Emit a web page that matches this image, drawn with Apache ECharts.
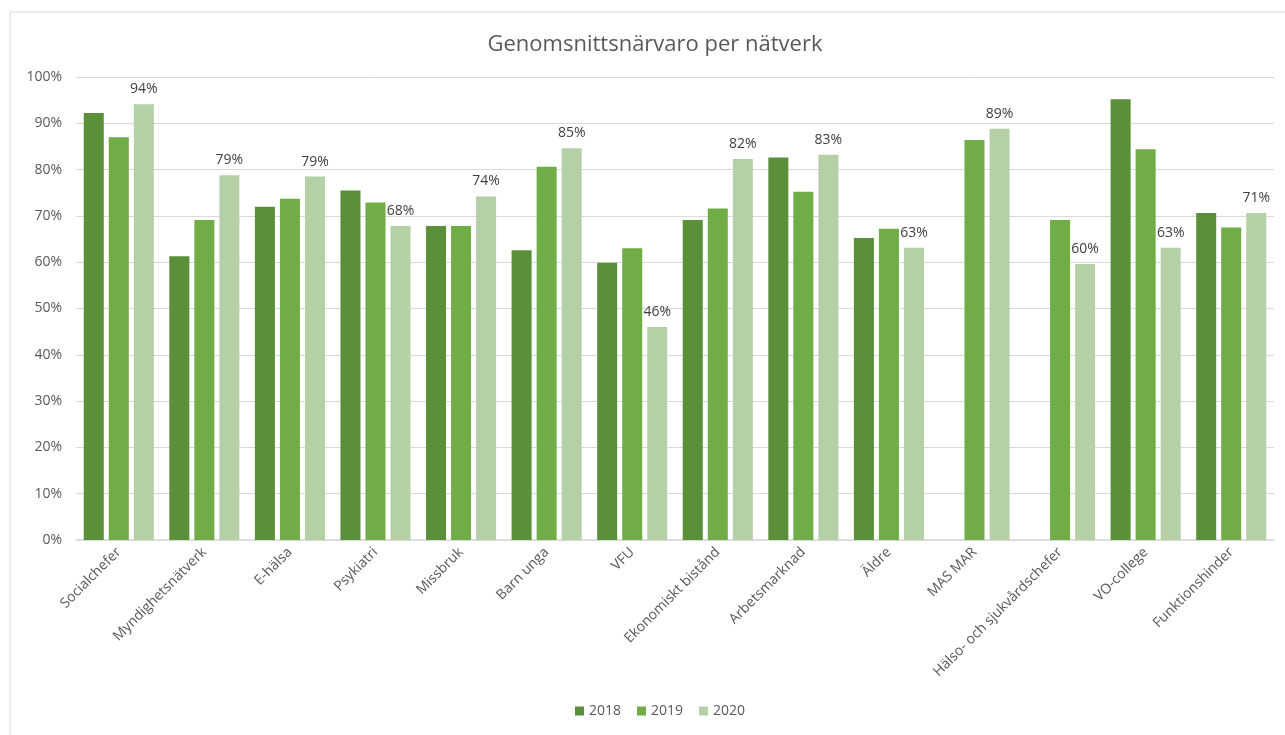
<!DOCTYPE html>
<html>
<head>
<meta charset="utf-8">
<script src="https://cdn.jsdelivr.net/npm/echarts@6/dist/echarts.min.js"></script>
<style>html,body{margin:0;padding:0;background:#fff;}#c{width:1285px;height:735px;}</style>
</head>
<body>
<div id="c"></div>
<script>
var categories = ['Socialchefer','Myndighetsnätverk','E-hälsa','Psykiatri','Missbruk','Barn unga','VFU','Ekonomiskt bistånd','Arbetsmarknad','Äldre','MAS MAR','Hälso- och sjukvårdschefer','VO-college','Funktionshinder'];
var years = ['2018','2019','2020'];
var v2018 = [92.2, 61.3, 72.0, 75.5, 67.8, 62.6, 59.9, 69.1, 82.6, 65.2, null, null, 95.2, 70.6];
var v2019 = [87.0, 69.1, 73.7, 72.9, 67.8, 80.6, 63.0, 71.6, 75.2, 67.2, 86.4, 69.1, 84.4, 67.5];
var v2020 = [94.1, 78.8, 78.5, 67.8, 74.2, 84.6, 46.0, 82.3, 83.2, 63.1, 88.8, 59.6, 63.1, 70.6];
var yTicks = [0,10,20,30,40,50,60,70,80,90,100];

var font = '"Open Sans", "Liberation Sans", sans-serif';
var colors = ['#5b8f3a', '#70ad47', '#b5cfa7'];
var chart = echarts.init(document.getElementById('c'));
function mk(name, data, idx, label) {
  return {
    name: name, type: 'bar', data: data,
    barWidth: '23.4%', barGap: '25%',
    itemStyle: { color: colors[idx] },
    label: label ? { show: true, position: 'top', distance: 8, color: '#404040', fontFamily: font, fontSize: 14,
      formatter: function (p) { return Math.round(p.value) + '%'; } } : { show: false }
  };
}
chart.setOption({
  animation: false,
  graphic: [{ type: 'rect', shape: { x: 10, y: 12, width: 1300, height: 740 }, style: { fill: 'none', stroke: '#d9d9d9', lineWidth: 1 }, silent: true }],
  title: { text: 'Genomsnittsnärvaro per nätverk', left: 650, top: 29, textAlign: 'center',
    textStyle: { fontFamily: font, fontSize: 22, fontWeight: 'normal', color: '#595959' } },
  legend: { data: years, bottom: 12, left: 570, itemWidth: 9, itemHeight: 9, itemGap: 16,
    icon: 'rect', textStyle: { fontFamily: font, fontSize: 14, color: '#595959' } },
  grid: { left: 76, right: 11, top: 77, bottom: 195, containLabel: false },
  xAxis: { type: 'category', data: categories,
    axisLine: { lineStyle: { color: '#d9d9d9', width: 1.5 } }, axisTick: { show: false },
    axisLabel: { rotate: 45, interval: 0, margin: 10, fontFamily: font, fontSize: 14, color: '#595959' } },
  yAxis: { type: 'value', min: 0, max: 100, interval: 10,
    axisLine: { show: false }, axisTick: { show: false },
    splitLine: { lineStyle: { color: '#d9d9d9', width: 1 } },
    axisLabel: { margin: 14, fontFamily: font, fontSize: 14, color: '#595959', formatter: function (v) { return v + '%'; } } },
  series: [mk(years[0], v2018, 0, false), mk(years[1], v2019, 1, false), mk(years[2], v2020, 2, true)]
});
</script>
</body>
</html>
